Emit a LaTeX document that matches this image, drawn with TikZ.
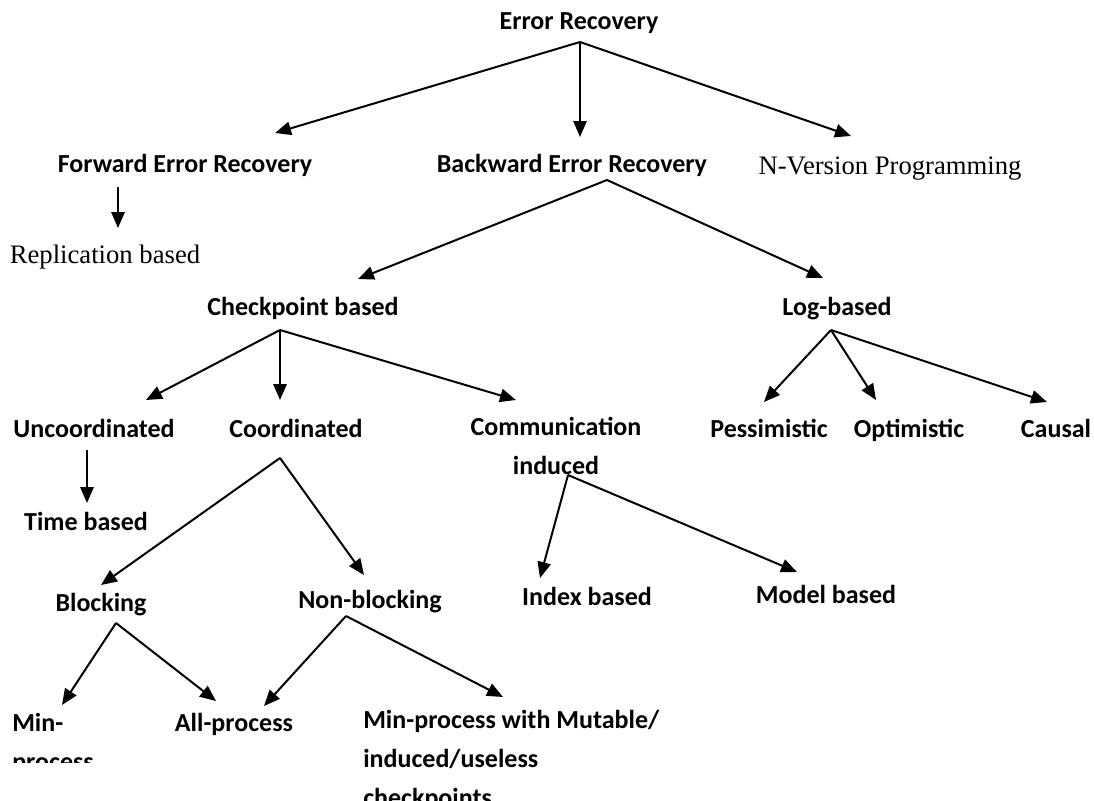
\documentclass[tikz,border=0pt]{standalone}
\usepackage{fontspec}
\newfontfamily\sansfnt{Carlito}
\newfontfamily\seriffnt{Liberation Serif}
\usetikzlibrary{arrows.meta,calc}

\begin{document}
\begin{tikzpicture}[x=0.75pt,y=-0.75pt,
    lbl/.style={anchor=base,inner sep=0pt,font=\sansfnt\bfseries\fontsize{19.5}{29.25}\selectfont},
    plain/.style={anchor=base,inner sep=0pt,font=\seriffnt\fontsize{20}{24}\selectfont},
    arr/.style={-{Triangle[length=12pt,width=10pt]},line width=1.5pt}]
  \useasboundingbox (0,0) rectangle (1094,800);
  % level 0 and 1
  \node[lbl] (er) at (579,29) {Error Recovery};
  \node[lbl] (fwd) at (185,172) {Forward Error Recovery};
  \node[lbl] (bwd) at (572,172) {Backward Error Recovery};
  \node[plain] (nvp) at (890,174) {N-Version Programming};
  \node[plain] (repl) at (105,263) {Replication based};
  % checkpoint / log
  \node[lbl] (cp) at (303,315) {Checkpoint based};
  \node[lbl] (log) at (837,315) {Log-based};
  \node[lbl] (unc) at (94,437) {Uncoordinated};
  \node[lbl] (coo) at (296,437) {Coordinated};
  \node[lbl,align=center] (com) at (556,474) {Communication\\induced};
  \node[lbl] (pes) at (769,437) {Pessimistic};
  \node[lbl] (opt) at (909,437) {Optimistic};
  \node[lbl] (cau) at (1056,437) {Causal};
  \node[lbl] (time) at (86,530) {Time based};
  \node[lbl] (blk) at (101,611) {Blocking};
  \node[lbl] (nbl) at (370,608) {Non-blocking};
  \node[lbl] (idx) at (587,605) {Index based};
  \node[lbl] (mdl) at (826,603) {Model based};
  % last row, cut at the bottom
  \begin{scope}
    \clip (0,0) rectangle (1094,762);
    \node[lbl,anchor=base west,align=left] (minp) at (12,770) {Min-\\process};
  \end{scope}
  \node[lbl] (allp) at (234,731) {All-process};
  \node[lbl,anchor=base west,align=left] (mpw) at (363,806) {Min-process with Mutable/\\induced/useless\\checkpoints};

  \path[arr]
    ($(er.base)+(1,13)$) edge ($(fwd.base)+(90,-39)$)
                         edge ($(bwd.base)+(8,-35)$)
                         edge ($(nvp.base)+(-39,-38)$)
    ($(fwd.base)+(-67,15)$) edge ($(repl.base)+(13,-35)$)
    ($(bwd.base)+(35,8)$) edge ($(cp.base)+(55,-36)$)
                          edge ($(log.base)+(-14,-37)$)
    ($(cp.base)+(-23,15)$) edge ($(unc.base)+(52,-37)$)
                           edge ($(coo.base)+(-16,-37)$)
                           edge ($(com.base)+(-40,-74)$)
    ($(log.base)+(-6,15)$) edge ($(pes.base)+(-5,-35)$)
                           edge ($(opt.base)+(-33,-37)$)
                           edge ($(cau.base)+(-9,-35)$)
    ($(unc.base)+(-7,13)$) edge ($(time.base)+(1,-27)$)
    ($(coo.base)+(-16,21)$) edge ($(blk.base)+(0,-26)$)
                            edge ($(nbl.base)+(-6,-33)$)
    ($(com.base)+(12,1)$) edge ($(idx.base)+(-47,-27)$)
                          edge ($(mdl.base)+(-29,-31)$)
    ($(blk.base)+(15,12)$) edge ($(minp.base west)+(50,-65)$)
                           edge ($(allp.base)+(-18,-30)$)
    ($(nbl.base)+(-24,8)$) edge ($(allp.base)+(30,-25)$)
                           edge ($(mpw.base west)+(140,-109)$);
\end{tikzpicture}
\end{document}
